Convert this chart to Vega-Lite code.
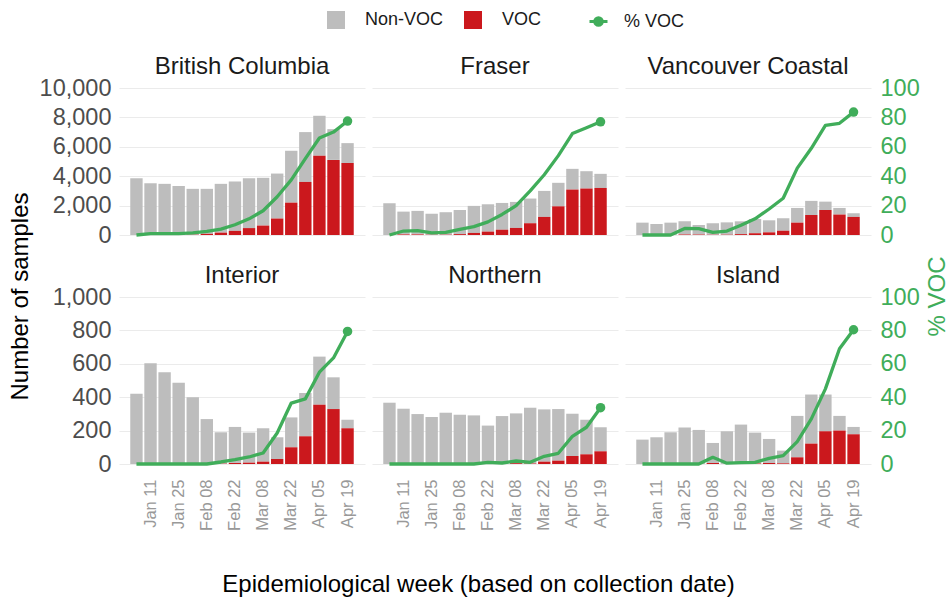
{
  "$schema": "https://vega.github.io/schema/vega-lite/v6.json",
  "padding": {"left": 8, "top": 11, "right": 0, "bottom": 5},
  "background": "white",
  "datasets": {
    "d": [
      {"region":"British Columbia","week":"Jan 04","VOC":0,"Non-VOC":3860,"pct":0},
      {"region":"British Columbia","week":"Jan 11","VOC":0,"Non-VOC":3520,"pct":1},
      {"region":"British Columbia","week":"Jan 18","VOC":0,"Non-VOC":3480,"pct":1},
      {"region":"British Columbia","week":"Jan 25","VOC":10,"Non-VOC":3330,"pct":1},
      {"region":"British Columbia","week":"Feb 01","VOC":20,"Non-VOC":3120,"pct":1.5},
      {"region":"British Columbia","week":"Feb 08","VOC":80,"Non-VOC":3060,"pct":2.5},
      {"region":"British Columbia","week":"Feb 15","VOC":160,"Non-VOC":3320,"pct":4},
      {"region":"British Columbia","week":"Feb 22","VOC":280,"Non-VOC":3360,"pct":7},
      {"region":"British Columbia","week":"Mar 01","VOC":470,"Non-VOC":3390,"pct":11},
      {"region":"British Columbia","week":"Mar 08","VOC":640,"Non-VOC":3250,"pct":16.5},
      {"region":"British Columbia","week":"Mar 15","VOC":1120,"Non-VOC":3060,"pct":26},
      {"region":"British Columbia","week":"Mar 22","VOC":2200,"Non-VOC":3530,"pct":37.5},
      {"region":"British Columbia","week":"Mar 29","VOC":3610,"Non-VOC":3390,"pct":52},
      {"region":"British Columbia","week":"Apr 05","VOC":5390,"Non-VOC":2720,"pct":66},
      {"region":"British Columbia","week":"Apr 12","VOC":5110,"Non-VOC":2090,"pct":70},
      {"region":"British Columbia","week":"Apr 19","VOC":4890,"Non-VOC":1360,"pct":77.5},

      {"region":"Fraser","week":"Jan 04","VOC":0,"Non-VOC":2160,"pct":0},
      {"region":"Fraser","week":"Jan 11","VOC":40,"Non-VOC":1550,"pct":2.7},
      {"region":"Fraser","week":"Jan 18","VOC":40,"Non-VOC":1600,"pct":3},
      {"region":"Fraser","week":"Jan 25","VOC":20,"Non-VOC":1430,"pct":1.4},
      {"region":"Fraser","week":"Feb 01","VOC":20,"Non-VOC":1530,"pct":1.8},
      {"region":"Fraser","week":"Feb 08","VOC":60,"Non-VOC":1640,"pct":3.9},
      {"region":"Fraser","week":"Feb 15","VOC":140,"Non-VOC":1840,"pct":5.7},
      {"region":"Fraser","week":"Feb 22","VOC":230,"Non-VOC":1860,"pct":8.9},
      {"region":"Fraser","week":"Mar 01","VOC":360,"Non-VOC":1820,"pct":14},
      {"region":"Fraser","week":"Mar 08","VOC":480,"Non-VOC":1770,"pct":20},
      {"region":"Fraser","week":"Mar 15","VOC":800,"Non-VOC":1680,"pct":30},
      {"region":"Fraser","week":"Mar 22","VOC":1230,"Non-VOC":1770,"pct":41},
      {"region":"Fraser","week":"Mar 29","VOC":1950,"Non-VOC":1600,"pct":54},
      {"region":"Fraser","week":"Apr 05","VOC":3090,"Non-VOC":1410,"pct":69},
      {"region":"Fraser","week":"Apr 12","VOC":3160,"Non-VOC":1180,"pct":73},
      {"region":"Fraser","week":"Apr 19","VOC":3200,"Non-VOC":960,"pct":77},

      {"region":"Vancouver Coastal","week":"Jan 04","VOC":0,"Non-VOC":840,"pct":0},
      {"region":"Vancouver Coastal","week":"Jan 11","VOC":0,"Non-VOC":750,"pct":0},
      {"region":"Vancouver Coastal","week":"Jan 18","VOC":0,"Non-VOC":840,"pct":0},
      {"region":"Vancouver Coastal","week":"Jan 25","VOC":40,"Non-VOC":890,"pct":4.5},
      {"region":"Vancouver Coastal","week":"Feb 01","VOC":30,"Non-VOC":650,"pct":4.3},
      {"region":"Vancouver Coastal","week":"Feb 08","VOC":15,"Non-VOC":785,"pct":1.8},
      {"region":"Vancouver Coastal","week":"Feb 15","VOC":20,"Non-VOC":840,"pct":2.7},
      {"region":"Vancouver Coastal","week":"Feb 22","VOC":60,"Non-VOC":870,"pct":6.6},
      {"region":"Vancouver Coastal","week":"Mar 01","VOC":120,"Non-VOC":970,"pct":11},
      {"region":"Vancouver Coastal","week":"Mar 08","VOC":180,"Non-VOC":820,"pct":17.7},
      {"region":"Vancouver Coastal","week":"Mar 15","VOC":290,"Non-VOC":850,"pct":25},
      {"region":"Vancouver Coastal","week":"Mar 22","VOC":840,"Non-VOC":1000,"pct":45.5},
      {"region":"Vancouver Coastal","week":"Mar 29","VOC":1360,"Non-VOC":960,"pct":59},
      {"region":"Vancouver Coastal","week":"Apr 05","VOC":1700,"Non-VOC":570,"pct":74.5},
      {"region":"Vancouver Coastal","week":"Apr 12","VOC":1390,"Non-VOC":450,"pct":76},
      {"region":"Vancouver Coastal","week":"Apr 19","VOC":1230,"Non-VOC":250,"pct":83.6},

      {"region":"Interior","week":"Jan 04","VOC":0,"Non-VOC":421,"pct":0},
      {"region":"Interior","week":"Jan 11","VOC":0,"Non-VOC":603,"pct":0},
      {"region":"Interior","week":"Jan 18","VOC":0,"Non-VOC":549,"pct":0},
      {"region":"Interior","week":"Jan 25","VOC":0,"Non-VOC":487,"pct":0},
      {"region":"Interior","week":"Feb 01","VOC":0,"Non-VOC":399,"pct":0},
      {"region":"Interior","week":"Feb 08","VOC":0,"Non-VOC":269,"pct":0},
      {"region":"Interior","week":"Feb 15","VOC":2,"Non-VOC":188,"pct":1.2},
      {"region":"Interior","week":"Feb 22","VOC":6,"Non-VOC":216,"pct":2.6},
      {"region":"Interior","week":"Mar 01","VOC":8,"Non-VOC":180,"pct":4.2},
      {"region":"Interior","week":"Mar 08","VOC":14,"Non-VOC":200,"pct":6.6},
      {"region":"Interior","week":"Mar 15","VOC":30,"Non-VOC":130,"pct":18.6},
      {"region":"Interior","week":"Mar 22","VOC":100,"Non-VOC":179,"pct":36.5},
      {"region":"Interior","week":"Mar 29","VOC":166,"Non-VOC":259,"pct":39},
      {"region":"Interior","week":"Apr 05","VOC":355,"Non-VOC":288,"pct":55},
      {"region":"Interior","week":"Apr 12","VOC":329,"Non-VOC":190,"pct":63.5},
      {"region":"Interior","week":"Apr 19","VOC":214,"Non-VOC":51,"pct":79.4},

      {"region":"Northern","week":"Jan 04","VOC":0,"Non-VOC":367,"pct":0},
      {"region":"Northern","week":"Jan 11","VOC":0,"Non-VOC":331,"pct":0},
      {"region":"Northern","week":"Jan 18","VOC":0,"Non-VOC":299,"pct":0},
      {"region":"Northern","week":"Jan 25","VOC":0,"Non-VOC":281,"pct":0},
      {"region":"Northern","week":"Feb 01","VOC":0,"Non-VOC":307,"pct":0},
      {"region":"Northern","week":"Feb 08","VOC":0,"Non-VOC":295,"pct":0},
      {"region":"Northern","week":"Feb 15","VOC":0,"Non-VOC":291,"pct":0},
      {"region":"Northern","week":"Feb 22","VOC":2,"Non-VOC":228,"pct":1},
      {"region":"Northern","week":"Mar 01","VOC":1,"Non-VOC":286,"pct":0.6},
      {"region":"Northern","week":"Mar 08","VOC":5,"Non-VOC":298,"pct":1.8},
      {"region":"Northern","week":"Mar 15","VOC":3,"Non-VOC":334,"pct":1},
      {"region":"Northern","week":"Mar 22","VOC":14,"Non-VOC":313,"pct":4.6},
      {"region":"Northern","week":"Mar 29","VOC":20,"Non-VOC":309,"pct":6.4},
      {"region":"Northern","week":"Apr 05","VOC":48,"Non-VOC":253,"pct":16.6},
      {"region":"Northern","week":"Apr 12","VOC":58,"Non-VOC":207,"pct":22},
      {"region":"Northern","week":"Apr 19","VOC":76,"Non-VOC":144,"pct":33.7},

      {"region":"Island","week":"Jan 04","VOC":0,"Non-VOC":146,"pct":0},
      {"region":"Island","week":"Jan 11","VOC":0,"Non-VOC":160,"pct":0},
      {"region":"Island","week":"Jan 18","VOC":0,"Non-VOC":190,"pct":0},
      {"region":"Island","week":"Jan 25","VOC":0,"Non-VOC":218,"pct":0},
      {"region":"Island","week":"Feb 01","VOC":0,"Non-VOC":204,"pct":0},
      {"region":"Island","week":"Feb 08","VOC":6,"Non-VOC":120,"pct":4},
      {"region":"Island","week":"Feb 15","VOC":0,"Non-VOC":196,"pct":0.5},
      {"region":"Island","week":"Feb 22","VOC":1,"Non-VOC":235,"pct":0.8},
      {"region":"Island","week":"Mar 01","VOC":3,"Non-VOC":185,"pct":1},
      {"region":"Island","week":"Mar 08","VOC":6,"Non-VOC":144,"pct":3.4},
      {"region":"Island","week":"Mar 15","VOC":4,"Non-VOC":76,"pct":5},
      {"region":"Island","week":"Mar 22","VOC":40,"Non-VOC":248,"pct":13.4},
      {"region":"Island","week":"Mar 29","VOC":122,"Non-VOC":294,"pct":27},
      {"region":"Island","week":"Apr 05","VOC":196,"Non-VOC":220,"pct":45},
      {"region":"Island","week":"Apr 12","VOC":200,"Non-VOC":88,"pct":69},
      {"region":"Island","week":"Apr 19","VOC":178,"Non-VOC":44,"pct":80.4}
    ]
  },
  "data": {"name": "d"},
  "columns": 3,
  "align": "each",
  "bounds": "flush",
  "spacing": {"row": 62, "column": 7},
  "resolve": {"scale": {"color": "shared", "stroke": "shared"}},
  "concat": [
    {
      "title": {"text": "British Columbia", "dy": 12},
      "width": 246, "height": 147,
      "transform": [{"filter": {"field": "region", "equal": "British Columbia"}}],
      "encoding": {
        "x": {"field": "week", "type": "ordinal", "title": null, "scale": {"domain": ["Jan 04","Jan 11","Jan 18","Jan 25","Feb 01","Feb 08","Feb 15","Feb 22","Mar 01","Mar 08","Mar 15","Mar 22","Mar 29","Apr 05","Apr 12","Apr 19"], "paddingInner": 0.12, "paddingOuter": 0.8}, "axis": null}
      },
      "layer": [
        {
          "transform": [{"fold": ["Non-VOC", "VOC"], "as": ["type", "n"]}],
          "mark": {"type": "bar"},
          "encoding": {
            "y": {"field": "n", "type": "quantitative", "stack": "zero", "title": "Number of samples", "scale": {"domain": [0, 10000], "nice": false},
              "axis": {"values": [0,2000,4000,6000,8000,10000], "format": ",d", "labelPadding": 8, "grid": true, "titleX": -99, "titleY": 208, "titleBaseline": "middle", "titleAlign": "center", "titleAngle": 270}},
            "color": {"field": "type", "type": "nominal", "scale": {"domain": ["Non-VOC", "VOC"], "range": ["#bdbdbd", "#cb181d"]},
              "legend": {"orient": "none", "legendX": 208, "legendY": -77, "direction": "horizontal", "title": null, "symbolType": "square", "symbolSize": 324, "symbolStrokeWidth": 0, "labelFontSize": 18, "labelColor": "#1a1a1a", "labelOffset": 20, "columnPadding": 20, "padding": 0}},
            "order": {"field": "type", "sort": "descending"}
          }
        },
        {"mark": {"type": "line", "strokeWidth": 3.3, "strokeJoin": "round"},
         "encoding": {
           "y": {"field": "pct", "type": "quantitative", "title": null, "scale": {"domain": [0, 100], "nice": false}, "axis": null},
           "stroke": {"datum": "% VOC", "type": "nominal", "scale": {"domain": ["% VOC"], "range": ["#40ad5a"]},
             "legend": {"orient": "none", "legendX": 469, "legendY": -77, "direction": "horizontal", "title": null, "symbolType": "M-1,0L1,0M-0.42,0A0.42,0.42,0,1,1,0.42,0A0.42,0.42,0,1,1,-0.42,0Z", "symbolSize": 324, "symbolStrokeWidth": 3, "symbolFillColor": "#40ad5a", "labelFontSize": 18, "labelColor": "#1a1a1a", "labelOffset": 15, "padding": 0}}
         }},
        {"transform": [{"filter": {"field": "week", "equal": "Apr 19"}}],
         "mark": {"type": "point", "filled": true, "size": 90, "opacity": 1, "color": "#40ad5a"},
         "encoding": {
           "y": {"field": "pct", "type": "quantitative", "title": null, "scale": {"domain": [0, 100], "nice": false}, "axis": null}
         }}
      ],
      "resolve": {"scale": {"y": "independent"}}
    },
    {
      "title": "Fraser",
      "width": 246, "height": 147,
      "transform": [{"filter": {"field": "region", "equal": "Fraser"}}],
      "encoding": {
        "x": {"field": "week", "type": "ordinal", "title": null, "scale": {"domain": ["Jan 04","Jan 11","Jan 18","Jan 25","Feb 01","Feb 08","Feb 15","Feb 22","Mar 01","Mar 08","Mar 15","Mar 22","Mar 29","Apr 05","Apr 12","Apr 19"], "paddingInner": 0.12, "paddingOuter": 0.8}, "axis": null}
      },
      "layer": [
        {
          "transform": [{"fold": ["Non-VOC", "VOC"], "as": ["type", "n"]}],
          "mark": {"type": "bar"},
          "encoding": {
            "y": {"field": "n", "type": "quantitative", "stack": "zero", "title": null, "scale": {"domain": [0, 10000], "nice": false}, "axis": {"values": [0,2000,4000,6000,8000,10000], "labels": false, "grid": true}},
            "color": {"field": "type", "type": "nominal", "scale": {"domain": ["Non-VOC", "VOC"], "range": ["#bdbdbd", "#cb181d"]}},
            "order": {"field": "type", "sort": "descending"}
          }
        },
        {"mark": {"type": "line", "strokeWidth": 3.3, "strokeJoin": "round"},
         "encoding": {
           "y": {"field": "pct", "type": "quantitative", "title": null, "scale": {"domain": [0, 100], "nice": false}, "axis": null},
           "stroke": {"datum": "% VOC", "type": "nominal", "scale": {"domain": ["% VOC"], "range": ["#40ad5a"]}}
         }},
        {"transform": [{"filter": {"field": "week", "equal": "Apr 19"}}],
         "mark": {"type": "point", "filled": true, "size": 90, "opacity": 1, "color": "#40ad5a"},
         "encoding": {
           "y": {"field": "pct", "type": "quantitative", "title": null, "scale": {"domain": [0, 100], "nice": false}, "axis": null}
         }}
      ],
      "resolve": {"scale": {"y": "independent"}}
    },
    {
      "title": {"text": "Vancouver Coastal", "dy": 12},
      "width": 246, "height": 147,
      "transform": [{"filter": {"field": "region", "equal": "Vancouver Coastal"}}],
      "encoding": {
        "x": {"field": "week", "type": "ordinal", "title": null, "scale": {"domain": ["Jan 04","Jan 11","Jan 18","Jan 25","Feb 01","Feb 08","Feb 15","Feb 22","Mar 01","Mar 08","Mar 15","Mar 22","Mar 29","Apr 05","Apr 12","Apr 19"], "paddingInner": 0.12, "paddingOuter": 0.8}, "axis": null}
      },
      "layer": [
        {
          "transform": [{"fold": ["Non-VOC", "VOC"], "as": ["type", "n"]}],
          "mark": {"type": "bar"},
          "encoding": {
            "y": {"field": "n", "type": "quantitative", "stack": "zero", "title": null, "scale": {"domain": [0, 10000], "nice": false}, "axis": {"values": [0,2000,4000,6000,8000,10000], "labels": false, "grid": true}},
            "color": {"field": "type", "type": "nominal", "scale": {"domain": ["Non-VOC", "VOC"], "range": ["#bdbdbd", "#cb181d"]}},
            "order": {"field": "type", "sort": "descending"}
          }
        },
        {"mark": {"type": "line", "strokeWidth": 3.3, "strokeJoin": "round"},
         "encoding": {
           "y": {"field": "pct", "type": "quantitative", "title": "% VOC", "scale": {"domain": [0, 100], "nice": false},
             "axis": {"orient": "right", "values": [0,20,40,60,80,100], "labelColor": "#40ad5a", "labelPadding": 9, "grid": false, "titleColor": "#40ad5a", "titleAngle": 270, "titleX": 66, "titleY": 208, "titleBaseline": "middle", "titleAlign": "center"}},
           "stroke": {"datum": "% VOC", "type": "nominal", "scale": {"domain": ["% VOC"], "range": ["#40ad5a"]}}
         }},
        {"transform": [{"filter": {"field": "week", "equal": "Apr 19"}}],
         "mark": {"type": "point", "filled": true, "size": 90, "opacity": 1, "color": "#40ad5a"},
         "encoding": {
           "y": {"field": "pct", "type": "quantitative", "title": null, "scale": {"domain": [0, 100], "nice": false}, "axis": null}
         }}
      ],
      "resolve": {"scale": {"y": "independent"}}
    },
    {
      "title": {"text": "Interior", "dy": 12},
      "width": 246, "height": 167,
      "transform": [{"filter": {"field": "region", "equal": "Interior"}}],
      "encoding": {
        "x": {"field": "week", "type": "ordinal", "title": null, "scale": {"domain": ["Jan 04","Jan 11","Jan 18","Jan 25","Feb 01","Feb 08","Feb 15","Feb 22","Mar 01","Mar 08","Mar 15","Mar 22","Mar 29","Apr 05","Apr 12","Apr 19"], "paddingInner": 0.12, "paddingOuter": 0.8},
          "axis": {"values": ["Jan 11","Jan 25","Feb 08","Feb 22","Mar 08","Mar 22","Apr 05","Apr 19"], "labelAngle": -90, "labelFontSize": 16.5, "labelColor": "#999999", "labelPadding": 15}}
      },
      "layer": [
        {
          "transform": [{"fold": ["Non-VOC", "VOC"], "as": ["type", "n"]}],
          "mark": {"type": "bar"},
          "encoding": {
            "y": {"field": "n", "type": "quantitative", "stack": "zero", "title": null, "scale": {"domain": [0, 1000], "nice": false},
              "axis": {"values": [0,200,400,600,800,1000], "format": ",d", "labelPadding": 8, "grid": true}},
            "color": {"field": "type", "type": "nominal", "scale": {"domain": ["Non-VOC", "VOC"], "range": ["#bdbdbd", "#cb181d"]}},
            "order": {"field": "type", "sort": "descending"}
          }
        },
        {"mark": {"type": "line", "strokeWidth": 3.3, "strokeJoin": "round"},
         "encoding": {
           "y": {"field": "pct", "type": "quantitative", "title": null, "scale": {"domain": [0, 100], "nice": false}, "axis": null},
           "stroke": {"datum": "% VOC", "type": "nominal", "scale": {"domain": ["% VOC"], "range": ["#40ad5a"]}}
         }},
        {"transform": [{"filter": {"field": "week", "equal": "Apr 19"}}],
         "mark": {"type": "point", "filled": true, "size": 90, "opacity": 1, "color": "#40ad5a"},
         "encoding": {
           "y": {"field": "pct", "type": "quantitative", "title": null, "scale": {"domain": [0, 100], "nice": false}, "axis": null}
         }}
      ],
      "resolve": {"scale": {"y": "independent"}}
    },
    {
      "title": "Northern",
      "width": 246, "height": 167,
      "transform": [{"filter": {"field": "region", "equal": "Northern"}}],
      "encoding": {
        "x": {"field": "week", "type": "ordinal", "title": "Epidemiological week (based on collection date)", "scale": {"domain": ["Jan 04","Jan 11","Jan 18","Jan 25","Feb 01","Feb 08","Feb 15","Feb 22","Mar 01","Mar 08","Mar 15","Mar 22","Mar 29","Apr 05","Apr 12","Apr 19"], "paddingInner": 0.12, "paddingOuter": 0.8},
          "axis": {"values": ["Jan 11","Jan 25","Feb 08","Feb 22","Mar 08","Mar 22","Apr 05","Apr 19"], "labelAngle": -90, "labelFontSize": 16.5, "labelColor": "#999999", "labelPadding": 15, "titleX": 106, "titleY": 127, "titleAlign": "center", "titleBaseline": "alphabetic"}}
      },
      "layer": [
        {
          "transform": [{"fold": ["Non-VOC", "VOC"], "as": ["type", "n"]}],
          "mark": {"type": "bar"},
          "encoding": {
            "y": {"field": "n", "type": "quantitative", "stack": "zero", "title": null, "scale": {"domain": [0, 1000], "nice": false}, "axis": {"values": [0,200,400,600,800,1000], "labels": false, "grid": true}},
            "color": {"field": "type", "type": "nominal", "scale": {"domain": ["Non-VOC", "VOC"], "range": ["#bdbdbd", "#cb181d"]}},
            "order": {"field": "type", "sort": "descending"}
          }
        },
        {"mark": {"type": "line", "strokeWidth": 3.3, "strokeJoin": "round"},
         "encoding": {
           "y": {"field": "pct", "type": "quantitative", "title": null, "scale": {"domain": [0, 100], "nice": false}, "axis": null},
           "stroke": {"datum": "% VOC", "type": "nominal", "scale": {"domain": ["% VOC"], "range": ["#40ad5a"]}}
         }},
        {"transform": [{"filter": {"field": "week", "equal": "Apr 19"}}],
         "mark": {"type": "point", "filled": true, "size": 90, "opacity": 1, "color": "#40ad5a"},
         "encoding": {
           "y": {"field": "pct", "type": "quantitative", "title": null, "scale": {"domain": [0, 100], "nice": false}, "axis": null}
         }}
      ],
      "resolve": {"scale": {"y": "independent"}}
    },
    {
      "title": {"text": "Island", "dy": 12},
      "width": 246, "height": 167,
      "transform": [{"filter": {"field": "region", "equal": "Island"}}],
      "encoding": {
        "x": {"field": "week", "type": "ordinal", "title": null, "scale": {"domain": ["Jan 04","Jan 11","Jan 18","Jan 25","Feb 01","Feb 08","Feb 15","Feb 22","Mar 01","Mar 08","Mar 15","Mar 22","Mar 29","Apr 05","Apr 12","Apr 19"], "paddingInner": 0.12, "paddingOuter": 0.8},
          "axis": {"values": ["Jan 11","Jan 25","Feb 08","Feb 22","Mar 08","Mar 22","Apr 05","Apr 19"], "labelAngle": -90, "labelFontSize": 16.5, "labelColor": "#999999", "labelPadding": 15}}
      },
      "layer": [
        {
          "transform": [{"fold": ["Non-VOC", "VOC"], "as": ["type", "n"]}],
          "mark": {"type": "bar"},
          "encoding": {
            "y": {"field": "n", "type": "quantitative", "stack": "zero", "title": null, "scale": {"domain": [0, 1000], "nice": false}, "axis": {"values": [0,200,400,600,800,1000], "labels": false, "grid": true}},
            "color": {"field": "type", "type": "nominal", "scale": {"domain": ["Non-VOC", "VOC"], "range": ["#bdbdbd", "#cb181d"]}},
            "order": {"field": "type", "sort": "descending"}
          }
        },
        {"mark": {"type": "line", "strokeWidth": 3.3, "strokeJoin": "round"},
         "encoding": {
           "y": {"field": "pct", "type": "quantitative", "title": null, "scale": {"domain": [0, 100], "nice": false},
             "axis": {"orient": "right", "values": [0,20,40,60,80,100], "labelColor": "#40ad5a", "labelPadding": 9, "grid": false}},
           "stroke": {"datum": "% VOC", "type": "nominal", "scale": {"domain": ["% VOC"], "range": ["#40ad5a"]}}
         }},
        {"transform": [{"filter": {"field": "week", "equal": "Apr 19"}}],
         "mark": {"type": "point", "filled": true, "size": 90, "opacity": 1, "color": "#40ad5a"},
         "encoding": {
           "y": {"field": "pct", "type": "quantitative", "title": null, "scale": {"domain": [0, 100], "nice": false}, "axis": null}
         }}
      ],
      "resolve": {"scale": {"y": "independent"}}
    }
  ],
  "config": {
    "font": "Liberation Sans",
    "view": {"stroke": null},
    "axis": {"domain": false, "ticks": false, "tickSize": 0, "gridColor": "#ebebeb", "gridWidth": 1, "labelFont": "Liberation Sans", "labelFontSize": 23.5, "labelColor": "#4d4d4d", "titleFont": "Liberation Sans", "titleFontSize": 24, "titleFontWeight": "normal", "titleColor": "#000000"},
    "axisX": {"grid": false},
    "title": {"font": "Liberation Sans", "fontSize": 24, "fontWeight": "normal", "color": "#1a1a1a", "offset": 9, "frame": "group", "anchor": "middle"},
    "legend": {"labelFont": "Liberation Sans"}
  }
}
